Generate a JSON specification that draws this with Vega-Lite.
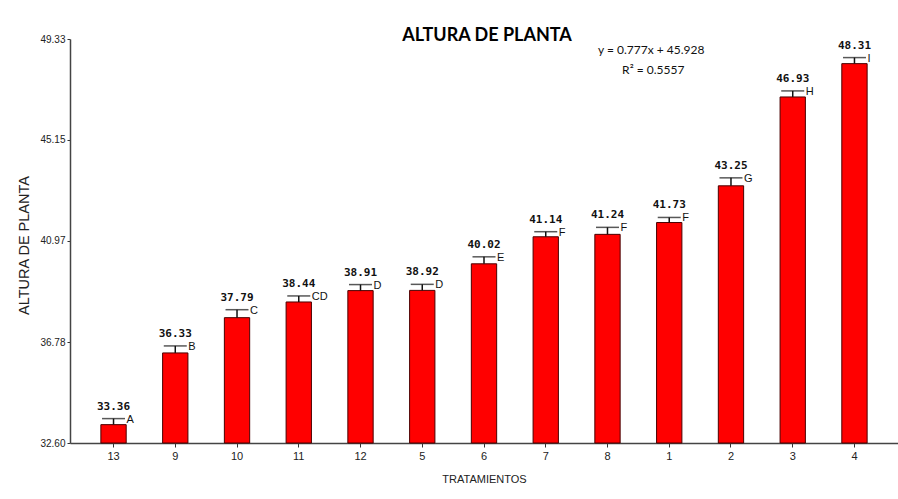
{
  "$schema": "https://vega.github.io/schema/vega-lite/v6.json",
  "width": 828,
  "height": 404,
  "autosize": {"type": "none"},
  "padding": {"left": 70, "top": 39, "right": 0, "bottom": 56},
  "background": "white",
  "config": {"view": {"stroke": null}},
  "title": {
    "text": "ALTURA DE PLANTA",
    "font": "Lato",
    "fontSize": 18,
    "fontWeight": "bold",
    "color": "#000000",
    "anchor": "middle",
    "frame": "group",
    "baseline": "alphabetic",
    "offset": -25,
    "dx": 3
  },
  "data": {
    "values": [
      {"trat": "13", "altura": 33.36, "sup": 33.61, "grupo": "A"},
      {"trat": "9", "altura": 36.33, "sup": 36.62, "grupo": "B"},
      {"trat": "10", "altura": 37.79, "sup": 38.12, "grupo": "C"},
      {"trat": "11", "altura": 38.44, "sup": 38.69, "grupo": "CD"},
      {"trat": "12", "altura": 38.91, "sup": 39.16, "grupo": "D"},
      {"trat": "5", "altura": 38.92, "sup": 39.17, "grupo": "D"},
      {"trat": "6", "altura": 40.02, "sup": 40.31, "grupo": "E"},
      {"trat": "7", "altura": 41.14, "sup": 41.35, "grupo": "F"},
      {"trat": "8", "altura": 41.24, "sup": 41.53, "grupo": "F"},
      {"trat": "1", "altura": 41.73, "sup": 41.94, "grupo": "F"},
      {"trat": "2", "altura": 43.25, "sup": 43.58, "grupo": "G"},
      {"trat": "3", "altura": 46.93, "sup": 47.18, "grupo": "H"},
      {"trat": "4", "altura": 48.31, "sup": 48.56, "grupo": "I"}
    ]
  },
  "encoding": {
    "x": {
      "field": "trat",
      "type": "nominal",
      "sort": null,
      "scale": {"paddingInner": 0.59, "paddingOuter": 0.5},
      "axis": {
        "title": "TRATAMIENTOS",
        "labelAngle": 0,
        "labelFont": "Liberation Sans",
        "labelFontSize": 11,
        "labelColor": "#222222",
        "labelPadding": 3,
        "tickSize": 4,
        "tickColor": "#333333",
        "domainColor": "#444444",
        "domainWidth": 1.5,
        "grid": false,
        "titleFont": "Liberation Sans Narrow, Liberation Sans",
        "titleFontSize": 11,
        "titleFontWeight": "normal",
        "titleColor": "#222222",
        "titleY": 36,
        "titleBaseline": "middle"
      }
    }
  },
  "layer": [
    {
      "mark": {"type": "bar", "color": "#ff0000", "stroke": "#4a0000", "strokeWidth": 1},
      "encoding": {
        "y": {
          "field": "altura",
          "type": "quantitative",
          "scale": {"domain": [32.6, 49.33], "nice": false, "zero": false},
          "axis": {
            "values": [32.6, 36.78, 40.97, 45.15, 49.33],
            "format": ".2f",
            "labelFont": "Liberation Sans Narrow, Liberation Sans",
            "labelFontSize": 10,
            "labelColor": "#222222",
            "tickSize": 3,
            "tickColor": "#333333",
            "domainColor": "#444444",
            "domainWidth": 1.5,
            "grid": false,
            "title": "ALTURA DE PLANTA",
            "titleFont": "Liberation Sans",
            "titleFontSize": 14.5,
            "titleFontWeight": "normal",
            "titleColor": "#222222",
            "titleAngle": -90,
            "titleX": -46,
            "titleY": 206,
            "titleAlign": "center",
            "titleBaseline": "middle"
          }
        },
        "y2": {"datum": 32.6}
      }
    },
    {
      "mark": {"type": "rule", "color": "#111111", "strokeWidth": 1.5},
      "encoding": {
        "y": {"field": "altura", "type": "quantitative"},
        "y2": {"field": "sup"}
      }
    },
    {
      "mark": {"type": "tick", "color": "#111111", "thickness": 1.5, "size": 23, "orient": "horizontal"},
      "encoding": {
        "y": {"field": "sup", "type": "quantitative"}
      }
    },
    {
      "mark": {"type": "text", "font": "DejaVu Sans Mono", "fontWeight": "bold", "fontSize": 11, "color": "#111111", "baseline": "alphabetic", "dy": -9},
      "encoding": {
        "y": {"field": "sup", "type": "quantitative"},
        "text": {"field": "altura", "type": "quantitative", "format": ".2f"}
      }
    },
    {
      "mark": {"type": "text", "font": "Liberation Sans", "fontSize": 11, "color": "#111111", "align": "left", "baseline": "alphabetic", "dx": 13, "dy": 4},
      "encoding": {
        "y": {"field": "sup", "type": "quantitative"},
        "text": {"field": "grupo"}
      }
    },
    {
      "data": {"values": [{"eq": "y = 0.777x + 45.928"}]},
      "mark": {"type": "text", "font": "Lato", "fontSize": 12, "color": "#111111", "align": "center", "baseline": "middle", "dx": -18},
      "encoding": {
        "x": {"datum": "1"},
        "y": {"datum": 48.87},
        "text": {"field": "eq"}
      }
    },
    {
      "data": {"values": [{"eq": "R² = 0.5557"}]},
      "mark": {"type": "text", "font": "Lato", "fontSize": 12, "color": "#111111", "align": "center", "baseline": "middle", "dx": -16},
      "encoding": {
        "x": {"datum": "1"},
        "y": {"datum": 48.05},
        "text": {"field": "eq"}
      }
    }
  ]
}
